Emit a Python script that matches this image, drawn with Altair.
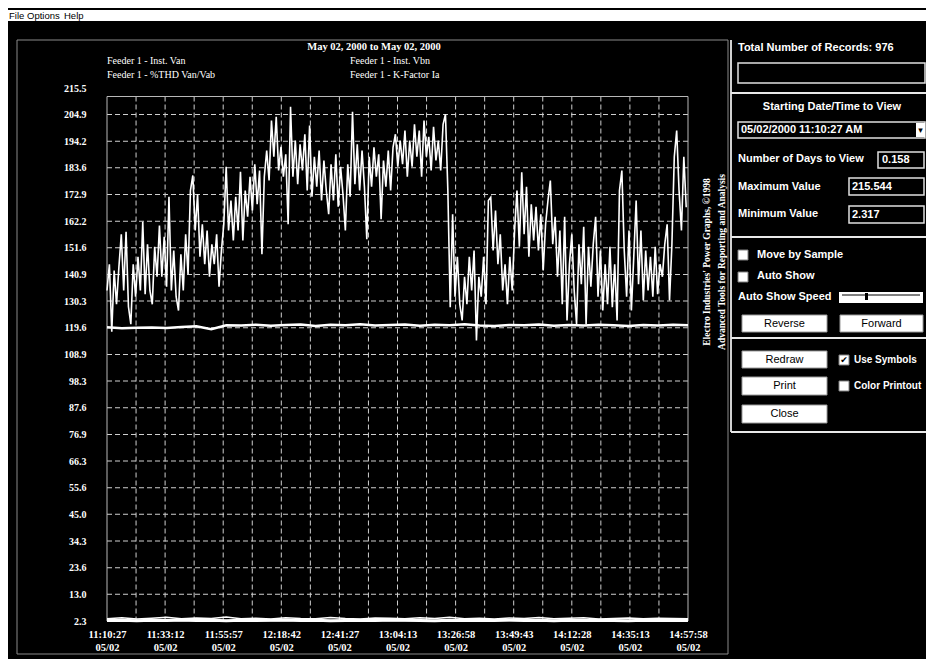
import altair as alt
import pandas as pd

# ---------------- data ----------------
MAIN_STEP = 4   # records between samples of the noisy series
main_vals = [
    134.5, 145, 118, 142.5, 129, 144, 157, 134.5, 158, 128,
    121, 145, 132, 148, 134.5, 162, 133, 153, 134.5, 129,
    152, 140, 160.5, 140, 156, 136, 172, 134.5, 150.5, 132,
    126.5, 149, 134.5, 157, 141, 174.5, 180.5, 158.5, 173, 148,
    161, 145, 158.5, 140, 153, 145, 157, 136, 150.5, 161,
    184, 158.5, 170.5, 154.5, 172, 158.5, 182, 154.5, 174.5, 164,
    180, 166.5, 185, 169, 182.5, 149, 180, 190.5, 178.5, 202.5,
    188, 204, 182.5, 192, 180, 189, 161, 208, 180, 194.5,
    177, 193, 182.5, 197, 174.5, 200.5, 172, 188, 176, 190.5,
    170.5, 186.5, 174.5, 165, 185, 170.5, 189, 168, 184, 173,
    158.5, 185, 172, 206, 177, 193, 174.5, 190.5, 176, 155,
    188, 176, 191.8, 180, 189, 163, 186.5, 176, 190.5, 174.5,
    191.8, 197, 184, 194.5, 185, 198.5, 180, 194.5, 184, 201,
    188, 198.5, 180, 202.5, 188, 196, 182.5, 200, 186.5, 194.5,
    182.5, 201, 205, 174.5, 127.8, 165, 132, 148, 129, 122.5,
    140, 129, 148, 134.5, 150.5, 114.5, 140, 132, 148, 129,
    170.5, 171.8, 150.5, 166.5, 145, 157, 134.5, 145, 129, 148,
    134.5, 158.5, 174.5, 152, 181.8, 157, 176, 148, 169, 154.5,
    168, 150.5, 165, 142.5, 161, 170.5, 178.5, 153, 164, 140,
    158.5, 129, 164, 122.5, 145, 157, 134.5, 121, 153, 137,
    160, 121, 152, 136, 153, 164, 132, 150.5, 126.5, 145,
    129, 152, 127.8, 145, 122.5, 174.5, 182.5, 150.5, 132, 158.5,
    126.5, 148, 170.5, 137, 158.5, 130.5, 150.5, 134.5, 148, 132,
    152, 133, 145, 140, 153, 161, 130.5, 153, 188, 198.5,
    174.5, 158.5, 188, 167.8,
]

LOW_STEP = 25   # records between samples of the flatter series
flat_vals = [119.8, 119.4, 119.6, 119.7, 119.5, 119.9, 120.2, 119.0, 120.6, 120.5,
             120.8, 120.4, 120.7, 120.9, 120.3, 120.8, 120.6, 121.0, 120.5, 120.7,
             120.9, 120.4, 120.8, 120.6, 121.0, 120.5, 120.3, 120.7, 120.6, 120.9,
             120.4, 120.7, 120.5, 120.8, 120.6, 120.3, 120.7, 120.5, 120.8, 120.6]
thd_vals = [2.5, 2.6, 2.4, 2.6, 2.5, 2.7, 2.5, 2.6, 2.4, 2.6,
            2.5, 2.6, 2.7, 2.5, 2.6, 2.4, 2.5, 2.6, 2.5, 2.7,
            2.6, 2.5, 2.4, 2.6, 2.5, 2.6, 2.5, 2.7, 2.5, 2.6,
            2.4, 2.6, 2.5, 2.6, 2.5, 2.4, 2.6, 2.5, 2.6, 2.5]
kf_vals = [3.2, 3.6, 3.1, 3.4, 3.8, 3.2, 3.5, 3.3, 3.9, 3.2,
           3.4, 3.1, 3.6, 3.3, 3.2, 3.7, 3.3, 3.1, 3.5, 3.4,
           3.2, 3.6, 3.3, 3.8, 3.2, 3.4, 3.1, 3.5, 3.3, 3.7,
           3.2, 3.4, 3.6, 3.1, 3.3, 3.5, 3.2, 3.4, 3.3, 3.2]

N_RECORDS = 975
y_tick_labels = [2.3, 13.0, 23.6, 34.3, 45.0, 55.6, 66.3, 76.9, 87.6, 98.3, 108.9,
                 119.6, 130.3, 140.9, 151.6, 162.2, 172.9, 183.6, 194.2, 204.9, 215.5]
time_labels = ["11:10:27", "11:33:12", "11:55:57", "12:18:42", "12:41:27", "13:04:13",
               "13:26:58", "13:49:43", "14:12:28", "14:35:13", "14:57:58"]
date_label = "05/02"
FRAME_TOP = 212.1

series_names = ["Feeder 1 - Inst. Van", "Feeder 1 - Inst. Vbn",
                "Feeder 1 - %THD Van/Vab", "Feeder 1 - K-Factor Ia"]
date_range = "May 02, 2000 to May 02, 2000"
credit_lines = ["Electro Industries' Power Graphs, \u00a91998",
                "Advanced Tools for Reporting and Analysis"]

# ---------------- frames ----------------
df_main = pd.DataFrame({"rec": [i * MAIN_STEP for i in range(len(main_vals))], "v": main_vals})
df_flat = pd.DataFrame({"rec": [i * LOW_STEP for i in range(len(flat_vals))], "v": flat_vals})
df_thd = pd.DataFrame({"rec": [i * LOW_STEP for i in range(len(thd_vals))], "v": thd_vals})
df_kf = pd.DataFrame({"rec": [i * LOW_STEP for i in range(len(kf_vals))], "v": kf_vals})

tick_step = N_RECORDS / (len(time_labels) - 1)
x_ticks = [k * tick_step for k in range(len(time_labels))]
vgrid = pd.DataFrame({"rec": [k * tick_step / 2 for k in range(1, 2 * (len(time_labels) - 1))],
                      "top": FRAME_TOP, "bot": 2.3})
hgrid = pd.DataFrame({"v": y_tick_labels[1:-1], "x0": 0, "x1": N_RECORDS})
frame = pd.DataFrame({"x0": [0], "x1": [N_RECORDS], "y0": [2.3], "y1": [FRAME_TOP]})
one = pd.DataFrame({"a": [0]})

xscale = alt.Scale(domain=[0, N_RECORDS], nice=False, zero=False)
yscale = alt.Scale(domain=[2.3, 215.5], nice=False, zero=False)

label_expr = "[" + ",".join(f"['{t}','{date_label}']" for t in time_labels) + \
    f"][round(datum.value / {tick_step})]"

SERIF = "Liberation Serif"
SANS = "Liberation Sans"

x_axis = alt.Axis(values=x_ticks, labelExpr=label_expr, title=None, grid=False, ticks=False,
                  domain=False, labelColor="white", labelFont=SERIF, labelFontWeight="bold",
                  labelFontSize=10.5, labelPadding=8, labelLineHeight=13, labelAngle=0,
                  labelOverlap=False, labelFlush=False, labelBound=False, labelBaseline="top")
y_axis = alt.Axis(values=y_tick_labels, format=".1f", title=None, grid=False, ticks=False,
                  domain=False, labelColor="white", labelFont=SERIF, labelFontWeight="bold",
                  labelFontSize=10, labelPadding=21, labelOverlap=False, labelFlush=False,
                  labelBound=False)


def X(field):
    return alt.X(field, type="quantitative", scale=xscale, axis=x_axis)


def Y(field):
    return alt.Y(field, type="quantitative", scale=yscale, axis=y_axis)


grid_col = "#cfcfcf"
vgrid_layer = alt.Chart(vgrid).mark_rule(color=grid_col, strokeDash=[5, 3], strokeWidth=1).encode(
    x=X("rec"), y=Y("top"), y2="bot")
hgrid_layer = alt.Chart(hgrid).mark_rule(color=grid_col, strokeDash=[5, 3], strokeWidth=1).encode(
    y=Y("v"), x=X("x0"), x2="x1")
frame_layer = alt.Chart(frame).mark_rect(fillOpacity=0, stroke="#b8b8b8", strokeWidth=1).encode(
    x=X("x0"), x2="x1", y=Y("y1"), y2="y0")


def series(df, width):
    return alt.Chart(df).mark_line(color="white", strokeWidth=width).encode(x=X("rec"), y=Y("v"))


layers = [vgrid_layer, hgrid_layer, frame_layer,
          series(df_flat, 2.5), series(df_thd, 3), series(df_kf, 1.5), series(df_main, 1.6)]

# ---------------- window decoration (pixel positions relative to plot) ----------------
def rect(x, x2, y, y2, fill, stroke=None, sw=1):
    kw = dict(fill=fill)
    if stroke:
        kw.update(stroke=stroke, strokeWidth=sw)
    return alt.Chart(one).mark_rect(**kw).encode(
        x=alt.value(x), x2=alt.value(x2), y=alt.value(y), y2=alt.value(y2))


def hrule(x, x2, y, color, sw=1):
    return alt.Chart(one).mark_rule(color=color, strokeWidth=sw).encode(
        x=alt.value(x), x2=alt.value(x2), y=alt.value(y))


def vrule(x, y, y2, color, sw=1):
    return alt.Chart(one).mark_rule(color=color, strokeWidth=sw).encode(
        x=alt.value(x), y=alt.value(y), y2=alt.value(y2))


def text(s, x, y, align="left", font=SANS, size=11, weight="bold", color="white", angle=0):
    kw = dict(text=s, align=align, baseline="middle", font=font, fontSize=size,
              fontWeight=weight, color=color)
    if angle:
        kw["angle"] = angle
    return alt.Chart(one).mark_text(**kw).encode(x=alt.value(x), y=alt.value(y))


deco = []
# menu bar
deco.append(rect(-99, 819, -78, -67, "white"))
deco += [text("File", -98, -72.5, size=9.5, weight="normal", color="black"),
         text("Options", -80, -72.5, size=9.5, weight="normal", color="black"),
         text("Help", -43, -72.5, size=9.5, weight="normal", color="black")]
# chart panel border
deco.append(alt.Chart(one).mark_rect(fillOpacity=0, stroke="#8a8a8a", strokeWidth=1).encode(
    x=alt.value(-90), x2=alt.value(621), y=alt.value(-48), y2=alt.value(566)))
# titles
deco.append(text(date_range, 267, -41, align="center", font=SERIF, size=10.5))
deco += [text(series_names[0], 0, -27, font=SERIF, size=10, weight="normal"),
         text(series_names[2], 0, -13, font=SERIF, size=10, weight="normal"),
         text(series_names[1], 243, -27, font=SERIF, size=10, weight="normal"),
         text(series_names[3], 243, -13, font=SERIF, size=10, weight="normal")]
deco += [text(credit_lines[0], 600, 174, align="center", font=SERIF, size=9.5, angle=270),
         text(credit_lines[1], 615, 174, align="center", font=SERIF, size=9.5, angle=270)]

# right control panel
deco.append(vrule(624, -48, 344, "#d0d0d0", 2))
for yy in [5, 149, 250, 344]:
    deco.append(hrule(624, 819, yy, "#e8e8e8", 2))
deco.append(text("Total Number of Records: 976", 631, -40))
deco.append(rect(631, 818, -25, -5, "black", "#e0e0e0", 1.5))
deco.append(text("Starting Date/Time to View", 725, 19, align="center"))
deco.append(rect(631, 818, 34, 50, "black", "#e0e0e0", 1.5))
deco.append(text("05/02/2000 11:10:27 AM", 634, 42))
deco.append(rect(809, 818, 35, 49, "white"))
deco.append(text("\u25BE", 813.5, 42, align="center", font="DejaVu Sans", size=9, color="black"))
deco.append(text("Number of Days to View", 631, 71))
deco.append(rect(771, 817, 64, 80, "black", "#e0e0e0", 1.5))
deco.append(text("0.158", 775, 72))
deco.append(text("Maximum Value", 631, 99))
deco.append(rect(742, 817, 90, 107, "black", "#e0e0e0", 1.5))
deco.append(text("215.544", 745, 98.5))
deco.append(text("Minimum Value", 631, 126))
deco.append(rect(742, 817, 118, 135, "black", "#e0e0e0", 1.5))
deco.append(text("2.317", 745, 126.5))
# check boxes
deco.append(rect(631, 641, 162, 172, "white", "#808080"))
deco.append(text("Move by Sample", 650, 167))
deco.append(rect(631, 641, 184, 194, "white", "#808080"))
deco.append(text("Auto Show", 650, 188))
deco.append(text("Auto Show Speed", 631, 209))
deco.append(rect(732, 816, 204, 215, "white"))
deco.append(hrule(735, 813, 207, "black", 1))
deco.append(rect(758, 761, 205, 212, "black"))
# buttons
for label, x0, x1, y0, y1 in [("Reverse", 635, 720, 227, 244), ("Forward", 733, 816, 227, 244),
                              ("Redraw", 635, 720, 263, 280), ("Print", 635, 720, 289, 307),
                              ("Close", 635, 720, 317, 335)]:
    deco.append(rect(x0, x1, y0, y1, "white", "#9a9a9a"))
    deco.append(text(label, (x0 + x1) / 2, (y0 + y1) / 2, align="center", weight="normal",
                     color="black"))
deco.append(rect(732, 742, 267, 277, "white", "#808080"))
deco.append(text("\u2714", 737, 272, align="center", font="DejaVu Sans", size=9, color="black"))
deco.append(text("Use Symbols", 747, 272, size=10))
deco.append(rect(732, 742, 293, 303, "white", "#808080"))
deco.append(text("Color Printout", 747, 298, size=10))

chart = alt.layer(*layers, *deco).properties(
    width=581, height=533,
    autosize=alt.AutoSizeParams(type="none"),
    padding={"left": 99, "top": 80, "right": 238, "bottom": 38},
).configure(background="black").configure_view(stroke=None)

chart.save("out.html", embed_options={"renderer": "svg", "actions": False})
